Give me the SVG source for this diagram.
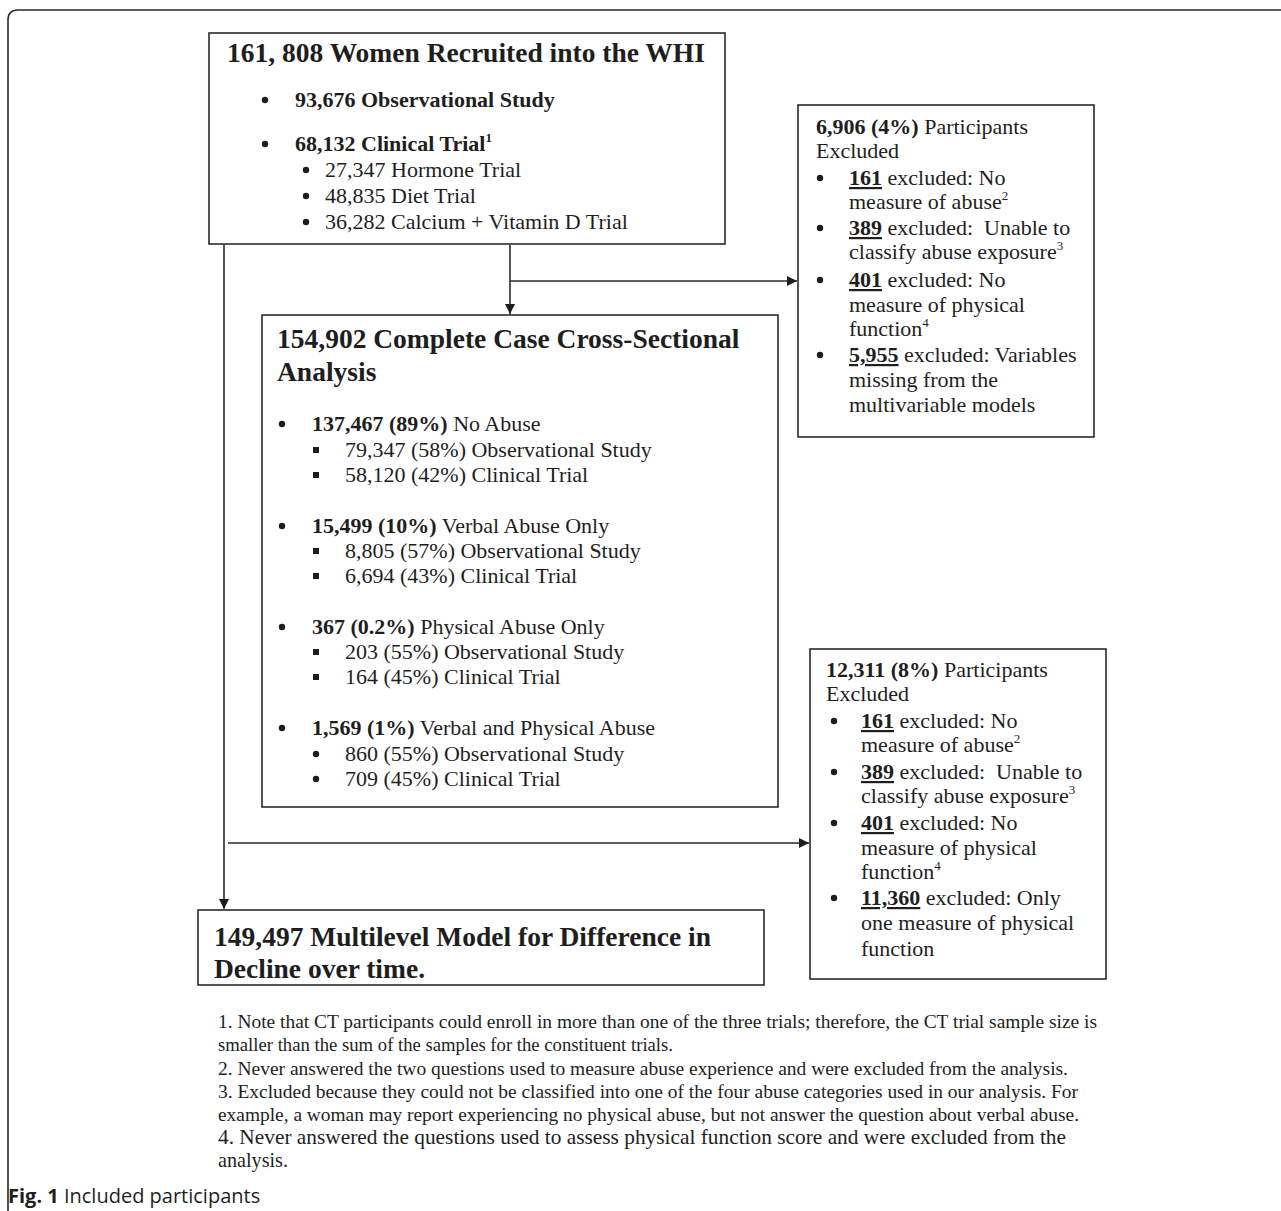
<svg xmlns="http://www.w3.org/2000/svg" width="1281" height="1211" viewBox="0 0 1281 1211">
<style>
text{font-family:"Liberation Serif","Times New Roman",serif;fill:#1e1e1e;}
.t{font-size:27.5px;font-weight:bold;}
.m{font-size:22px;}
.b{font-weight:bold;}
.u{text-decoration:underline;}
.fn{font-size:19px;}
.fn2{font-size:21px;}
.cap{font-family:"Open Sans","Noto Sans",sans-serif;font-size:20px;}
.box{fill:#fff;stroke:#2a2a2a;stroke-width:1.6;}
.ln{fill:none;stroke:#2a2a2a;stroke-width:1.6;}
.dot{fill:#1e1e1e;}
</style>
<defs>
<marker id="ah" viewBox="0 0 10 10" refX="10" refY="5" markerWidth="10" markerHeight="10" markerUnits="userSpaceOnUse" orient="auto">
<path d="M0,0 L10,5 L0,10 z" fill="#1e1e1e"/>
</marker>
</defs>
<path class="ln" d="M8,1211 V20 Q8,10 18,10 H1281"/>

<g id="connectors">
<path class="ln" d="M224,245 V909" marker-end="url(#ah)"/>
<path class="ln" d="M510,245 V314" marker-end="url(#ah)"/>
<path class="ln" d="M510,281 H797" marker-end="url(#ah)"/>
<path class="ln" d="M228,843 H809" marker-end="url(#ah)"/>
</g>

<g id="recruited">
<rect class="box" x="209" y="33" width="516" height="211"/>
<text class="t" x="227" y="62">161, 808 Women Recruited into the WHI</text>
<circle class="dot" cx="265" cy="100" r="3.2"/>
<text class="m b" x="295" y="107">93,676 Observational Study</text>
<circle class="dot" cx="265" cy="144" r="3.2"/>
<text class="m b" x="295" y="151">68,132 Clinical Trial<tspan font-size="13" dy="-9">1</tspan></text>
<circle class="dot" cx="306" cy="170" r="3.2"/>
<text class="m" x="325" y="177">27,347 Hormone Trial</text>
<circle class="dot" cx="306" cy="196" r="3.2"/>
<text class="m" x="325" y="203">48,835 Diet Trial</text>
<circle class="dot" cx="306" cy="222" r="3.2"/>
<text class="m" x="325" y="229">36,282 Calcium + Vitamin D Trial</text>
</g>

<g id="excluded1">
<rect class="box" x="798" y="105" width="296" height="332"/>
<text class="m" x="816" y="134"><tspan class="b">6,906 (4%)</tspan> Participants</text>
<text class="m" x="816" y="158">Excluded</text>
<circle class="dot" cx="820" cy="178" r="3.2"/>
<text class="m" x="849" y="185"><tspan class="b u">161</tspan> excluded: No</text>
<text class="m" x="849" y="209">measure of abuse<tspan font-size="13" dy="-9">2</tspan></text>
<circle class="dot" cx="820" cy="228" r="3.2"/>
<text class="m" x="849" y="235" xml:space="preserve"><tspan class="b u">389</tspan> excluded:  Unable to</text>
<text class="m" x="849" y="259">classify abuse exposure<tspan font-size="13" dy="-9">3</tspan></text>
<circle class="dot" cx="820" cy="280" r="3.2"/>
<text class="m" x="849" y="287"><tspan class="b u">401</tspan> excluded: No</text>
<text class="m" x="849" y="312">measure of physical</text>
<text class="m" x="849" y="336">function<tspan font-size="13" dy="-9">4</tspan></text>
<circle class="dot" cx="820" cy="355" r="3.2"/>
<text class="m" x="849" y="362"><tspan class="b u">5,955</tspan> excluded: Variables</text>
<text class="m" x="849" y="387">missing from the</text>
<text class="m" x="849" y="412">multivariable models</text>
</g>

<g id="crosssectional">
<rect class="box" x="262" y="315" width="516" height="492"/>
<text class="t" x="277" y="348">154,902 Complete Case Cross-Sectional</text>
<text class="t" x="277" y="381">Analysis</text>
<circle class="dot" cx="282" cy="424" r="3.2"/>
<text class="m" x="312" y="431"><tspan class="b">137,467 (89%)</tspan> No Abuse</text>
<rect class="dot" x="313" y="447" width="6" height="6"/>
<text class="m" x="345" y="457">79,347 (58%) Observational Study</text>
<rect class="dot" x="313" y="472" width="6" height="6"/>
<text class="m" x="345" y="482">58,120 (42%) Clinical Trial</text>
<circle class="dot" cx="282" cy="526" r="3.2"/>
<text class="m" x="312" y="533"><tspan class="b">15,499 (10%)</tspan> Verbal Abuse Only</text>
<rect class="dot" x="313" y="548" width="6" height="6"/>
<text class="m" x="345" y="558">8,805 (57%) Observational Study</text>
<rect class="dot" x="313" y="573" width="6" height="6"/>
<text class="m" x="345" y="583">6,694 (43%) Clinical Trial</text>
<circle class="dot" cx="282" cy="627" r="3.2"/>
<text class="m" x="312" y="634"><tspan class="b">367 (0.2%)</tspan> Physical Abuse Only</text>
<rect class="dot" x="313" y="649" width="6" height="6"/>
<text class="m" x="345" y="659">203 (55%) Observational Study</text>
<rect class="dot" x="313" y="674" width="6" height="6"/>
<text class="m" x="345" y="684">164 (45%) Clinical Trial</text>
<circle class="dot" cx="282" cy="728" r="3.2"/>
<text class="m" x="312" y="735"><tspan class="b">1,569 (1%)</tspan> Verbal and Physical Abuse</text>
<circle class="dot" cx="316" cy="754" r="3.2"/>
<text class="m" x="345" y="761">860 (55%) Observational Study</text>
<circle class="dot" cx="316" cy="779" r="3.2"/>
<text class="m" x="345" y="786">709 (45%) Clinical Trial</text>
</g>

<g id="excluded2">
<rect class="box" x="810" y="649" width="296" height="330"/>
<text class="m" x="826" y="677"><tspan class="b">12,311 (8%)</tspan> Participants</text>
<text class="m" x="826" y="701">Excluded</text>
<circle class="dot" cx="834" cy="721" r="3.2"/>
<text class="m" x="861" y="728"><tspan class="b u">161</tspan> excluded: No</text>
<text class="m" x="861" y="752">measure of abuse<tspan font-size="13" dy="-9">2</tspan></text>
<circle class="dot" cx="834" cy="772" r="3.2"/>
<text class="m" x="861" y="779" xml:space="preserve"><tspan class="b u">389</tspan> excluded:  Unable to</text>
<text class="m" x="861" y="803">classify abuse exposure<tspan font-size="13" dy="-9">3</tspan></text>
<circle class="dot" cx="834" cy="823" r="3.2"/>
<text class="m" x="861" y="830"><tspan class="b u">401</tspan> excluded: No</text>
<text class="m" x="861" y="855">measure of physical</text>
<text class="m" x="861" y="879">function<tspan font-size="13" dy="-9">4</tspan></text>
<circle class="dot" cx="834" cy="898" r="3.2"/>
<text class="m" x="861" y="905"><tspan class="b u">11,360</tspan> excluded: Only</text>
<text class="m" x="861" y="930">one measure of physical</text>
<text class="m" x="861" y="956">function</text>
</g>

<g id="multilevel">
<rect class="box" x="198" y="910" width="566" height="75"/>
<text class="t" x="214" y="946">149,497 Multilevel Model for Difference in</text>
<text class="t" x="214" y="978">Decline over time.</text>
</g>

<g id="footnotes">
<text class="fn" x="218" y="1028" textLength="879" lengthAdjust="spacingAndGlyphs">1. Note that CT participants could enroll in more than one of the three trials; therefore, the CT trial sample size is</text>
<text class="fn" x="218" y="1051" textLength="455" lengthAdjust="spacingAndGlyphs">smaller than the sum of the samples for the constituent trials.</text>
<text class="fn" x="218" y="1075" textLength="850" lengthAdjust="spacingAndGlyphs">2. Never answered the two questions used to measure abuse experience and were excluded from the analysis.</text>
<text class="fn" x="218" y="1098" textLength="860" lengthAdjust="spacingAndGlyphs">3. Excluded because they could not be classified into one of the four abuse categories used in our analysis. For</text>
<text class="fn" x="218" y="1121" textLength="861" lengthAdjust="spacingAndGlyphs">example, a woman may report experiencing no physical abuse, but not answer the question about verbal abuse.</text>
<text class="fn2" x="218" y="1144" textLength="848" lengthAdjust="spacingAndGlyphs">4. Never answered the questions used to assess physical function score and were excluded from the</text>
<text class="fn2" x="218" y="1167" textLength="70" lengthAdjust="spacingAndGlyphs">analysis.</text>
</g>

<text class="cap" x="8" y="1203"><tspan font-weight="bold">Fig. 1</tspan> Included participants</text>
</svg>
